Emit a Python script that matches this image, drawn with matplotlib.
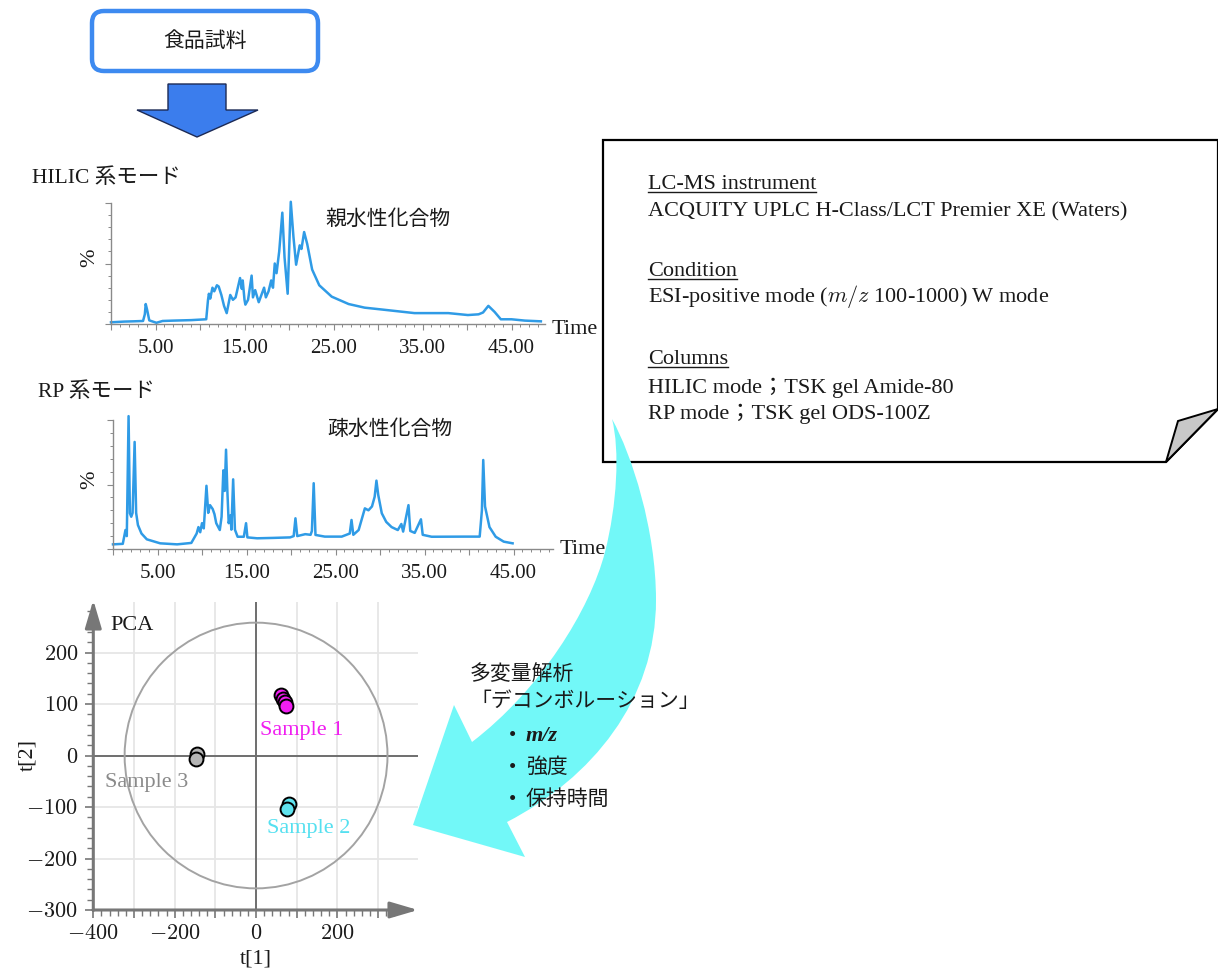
"""LC-MS metabolomics workflow: sample -> HILIC / RP chromatograms -> PCA score plot."""
import matplotlib
matplotlib.use("Agg")
import matplotlib.pyplot as plt
import numpy as np
from matplotlib.patches import Polygon, FancyBboxPatch, Ellipse, PathPatch
from matplotlib.path import Path
from matplotlib.ticker import MultipleLocator, FixedLocator, FuncFormatter, NullFormatter

plt.rcParams["font.family"] = ["Liberation Serif", "Noto Sans CJK JP"]
plt.rcParams["mathtext.fontset"] = "cm"

W, H = 1218, 973

# ── chromatogram traces (retention time [min], relative intensity [%]) ──────
HILIC_TIME = [0.0, 1.5, 2.5, 3.6, 3.8, 3.9, 4.05, 4.3, 5.1, 5.8, 7.0, 9.0, 10.7,
              10.9, 11.0, 11.15, 11.4, 11.6, 11.9, 12.1, 12.4, 12.7, 13.0, 13.4,
              13.7, 14.0, 14.5, 14.7, 14.8, 15.0, 15.1, 15.4, 15.8, 15.95, 16.2,
              16.4, 16.6, 16.9, 17.2, 17.4, 17.7, 18.0, 18.2, 18.4, 18.6, 18.9,
              19.25, 19.5, 19.85, 20.2, 20.5, 20.8, 21.2, 21.4, 21.7, 22.05, 22.6,
              23.4, 24.8, 26.7, 28.5, 30.4, 34.1, 37.9, 40.1, 41.3, 41.8, 42.4,
              43.1, 43.8, 45.0, 46.5, 48.3]
HILIC_INTENSITY = [1.4, 2.0, 2.2, 2.5, 8, 16.5, 12, 3, 1.0, 2.5, 2.8, 3.2, 3.9,
                   20, 25, 21, 30, 27, 32, 31, 24, 15, 9, 24,
                   20, 22, 38, 29, 36, 20, 16, 20, 40, 22, 28,
                   23, 18, 24, 30, 22, 27, 36, 30, 50, 42, 60,
                   92, 55, 25, 101, 72, 49, 65, 62, 76, 66, 45,
                   32, 22.6, 16.5, 13.5, 12, 9, 9, 7.4, 8, 9.5, 15,
                   10, 3.9, 3.9, 2.8, 2.2]

RP_TIME = [0.0, 1.1, 1.4, 1.55, 1.75, 1.9, 2.05, 2.2, 2.43, 2.6, 2.8, 3.2, 3.8,
           5.3, 7.2, 8.8, 9.4, 9.6, 9.8, 10.0, 10.2, 10.5, 10.7, 10.9, 11.2,
           11.4, 11.6, 12.0, 12.2, 12.4, 12.55, 12.7, 12.85, 13.0, 13.2, 13.3,
           13.5, 13.7, 14.0, 14.7, 14.95, 15.1, 16.2, 18.0, 19.9, 20.3, 20.5,
           20.7, 21.6, 22.2, 22.35, 22.55, 22.75, 23.8, 25.7, 26.6, 26.8, 27.0,
           27.6, 28.3, 28.7, 29.1, 29.4, 29.6, 29.8, 30.2, 30.7, 31.3, 32.0,
           32.4, 32.6, 33.2, 33.4, 33.9, 34.6, 34.8, 35.8, 39.5, 41.2, 41.45,
           41.6, 41.8, 42.3, 43.0, 43.9, 44.9]
RP_INTENSITY = [3.6, 4, 14.7, 10, 103, 27.7, 25, 28, 83, 28, 18.6, 12, 7.5,
                4.4, 3.6, 4.7, 12, 17, 13, 20, 16, 49, 28, 34, 31,
                27, 20, 14.7, 25, 61, 45, 77, 45, 20, 26, 15,
                54, 15, 9.5, 9.5, 20, 9, 8.3, 8.6, 9, 10, 23.8,
                10, 11.5, 11, 14, 51, 10.9, 9.6, 9.6, 12, 22.5, 11,
                14.7, 31.5, 30, 33, 40.5, 53, 42, 27.7, 21, 17, 14.7,
                19.4, 13.5, 34, 14, 12.5, 23, 11, 9.5, 9.6, 9.6, 30,
                69, 33, 17, 9.5, 5.7, 4.4]

TIME_TICKS = [5, 15, 25, 35, 45]

# ── PCA scores ───────────────────────────────────────────────────────────────
SAMPLE_NAMES = ["Sample 1", "Sample 2", "Sample 3"]
SAMPLE_T1 = [[62, 66, 70, 73], [80, 75], [-146, -148]]
SAMPLE_T2 = [[117, 110, 104, 96], [-94, -104], [2, -7]]
SAMPLE_FILL = ["#f21ef2", "#5fe3ee", "#b5b5b5"]
SAMPLE_TEXT = ["#f01ef0", "#55e0f0", "#8a8a8a"]
HOTELLING_T1, HOTELLING_T2 = 323, 258
PCA_X_TICKS = [-400, -200, 0, 200]
PCA_Y_TICKS = [-300, -200, -100, 0, 100, 200]

TRACE = "#2f9be6"
AXIS_GREY = "#8a8a8a"
INK = "#1a1a1a"
CYAN = "#72f8f8"

fig = plt.figure(figsize=(W / 100, H / 100), dpi=100)


def px_axes(left, top, right, bottom, **kw):
    """Axes placed by pixel box (y measured from the top)."""
    return fig.add_axes([left / W, 1 - bottom / H, (right - left) / W, (bottom - top) / H], **kw)


def chromatogram(box, time, inten):
    ax = px_axes(*box)
    xmax = (box[2] - box[0]) / 8.9
    ax.plot(time, inten, color=TRACE, lw=1.8, clip_on=False, solid_joinstyle="round")
    ax.set_xlim(0, xmax)
    ax.set_ylim(0, 100)
    ax.patch.set_alpha(0)
    for s in ("top", "right"):
        ax.spines[s].set_visible(False)
    for s in ("left", "bottom"):
        ax.spines[s].set_color(AXIS_GREY)
        ax.spines[s].set_linewidth(1.0)
    ax.xaxis.set_major_locator(FixedLocator(np.arange(0, xmax, 5)))
    ax.xaxis.set_minor_locator(FixedLocator(np.arange(0, xmax, 1)))
    ax.xaxis.set_major_formatter(FuncFormatter(
        lambda v, _: f"{v:.2f}" if round(v) in TIME_TICKS else ""))
    ax.yaxis.set_major_locator(MultipleLocator(50))
    ax.yaxis.set_minor_locator(MultipleLocator(10))
    ax.yaxis.set_major_formatter(NullFormatter())
    ax.tick_params(axis="x", which="major", length=4, width=0.8, color=AXIS_GREY,
                   labelsize=15, pad=7, labelcolor=INK)
    ax.tick_params(axis="x", which="minor", length=2.4, width=0.7, color=AXIS_GREY)
    ax.tick_params(axis="y", which="major", length=4, width=0.8, color=AXIS_GREY)
    ax.tick_params(axis="y", which="minor", length=2.4, width=0.7, color=AXIS_GREY)
    return ax


chromatogram((111, 203, 545, 324), HILIC_TIME, HILIC_INTENSITY)
chromatogram((113, 420, 553, 549), RP_TIME, RP_INTENSITY)

# ── PCA score plot ───────────────────────────────────────────────────────────
pca = px_axes(93.3, 600, 418, 910)
pca.set_xlim(-400, 398)
pca.set_ylim(-300, 302)
pca.patch.set_alpha(0)
for s in pca.spines.values():
    s.set_visible(False)

pca.vlines([-300, -200, -100, 100, 200, 300], -300, 298, color="#e6e6e6", lw=1.3, zorder=1)
pca.hlines([-200, -100, 100, 200], -400, 398, color="#e6e6e6", lw=1.3, zorder=1)
pca.vlines(0, -300, 298, color="#6e6e6e", lw=1.4, zorder=2)
pca.hlines(0, -400, 398, color="#6e6e6e", lw=1.4, zorder=2)
pca.add_patch(Ellipse((0, 0), 2 * HOTELLING_T1, 2 * HOTELLING_T2, fill=False,
                      ec="#a3a3a3", lw=1.4, zorder=2))

arrow_kw = dict(arrowstyle="-|>,head_length=0.85,head_width=0.25", color="#777777",
                lw=2.2, shrinkA=0, shrinkB=0, mutation_scale=20)
pca.annotate("", xy=(398, -300), xytext=(-401, -300), arrowprops=arrow_kw,
             annotation_clip=False, zorder=3)
pca.annotate("", xy=(-400, 302), xytext=(-400, -301), arrowprops=arrow_kw,
             annotation_clip=False, zorder=3)

for t1, t2, fc in zip(SAMPLE_T1, SAMPLE_T2, SAMPLE_FILL):
    pca.scatter(t1, t2, s=100, c=fc, edgecolors="black", linewidths=1.4, zorder=4)

pca.xaxis.set_major_locator(FixedLocator(np.arange(-400, 301, 100)))
pca.xaxis.set_minor_locator(FixedLocator(np.arange(-380, 341, 20)))
pca.yaxis.set_major_locator(FixedLocator(np.arange(-300, 201, 100)))
pca.yaxis.set_minor_locator(FixedLocator(np.arange(-280, 281, 20)))
pca.xaxis.set_major_formatter(FuncFormatter(
    lambda v, _: rf"${v:.0f}$" if round(v) in PCA_X_TICKS else ""))
pca.yaxis.set_major_formatter(FuncFormatter(
    lambda v, _: rf"${v:.0f}$" if round(v) in PCA_Y_TICKS else ""))
pca.tick_params(which="major", length=6, width=1.2, color="#777777",
                labelsize=16, labelcolor=INK, pad=5)
pca.tick_params(which="minor", length=4, width=1.0, color="#777777")

# ── overlay for flow-chart shapes and annotations (pixel units, y down) ─────
ov = fig.add_axes([0, 0, 1, 1], zorder=10)
ov.set_xlim(0, W)
ov.set_ylim(H, 0)
ov.axis("off")
ov.patch.set_alpha(0)

ov.add_patch(FancyBboxPatch((92, 11), 226, 60, boxstyle="round,pad=0,rounding_size=12",
                            fc="white", ec="#3d8af0", lw=3.2, zorder=2))
ov.text(205, 42, "食品試料", fontsize=15, ha="center", va="center", color=INK, zorder=3)
ov.add_patch(Polygon([(168, 84), (226, 84), (226, 110), (258, 110), (197, 137),
                      (137, 110), (168, 110)], closed=True, fc="#3b7ded",
                     ec="#1c2a55", lw=1.0, zorder=2))

ov.text(32, 178, "HILIC 系モード", fontsize=15.5, va="center", color=INK)
ov.text(38, 392, "RP 系モード", fontsize=15.5, va="center", color=INK)
ov.text(325, 220, "親水性化合物", fontsize=15, va="center", color=INK)
ov.text(327, 430, "疎水性化合物", fontsize=15, va="center", color=INK)
ov.text(90, 258, "%", fontsize=16, rotation=90, ha="center", va="center", color=INK)
ov.text(90, 480, "%", fontsize=16, rotation=90, ha="center", va="center", color=INK)
ov.text(552, 330, "Time", fontsize=16, va="center", color=INK)
ov.text(560, 550, "Time", fontsize=16, va="center", color=INK)

# instrument note sheet with a curled corner
ov.add_patch(Polygon([(603, 140), (1218, 140), (1218, 409), (1166, 462), (603, 462)],
                     closed=True, fc="white", ec="black", lw=1.6, zorder=1))
ov.add_patch(Polygon([(1166, 462), (1178, 421), (1218, 409)], closed=True,
                     fc="#c8c8c8", ec="black", lw=1.4, zorder=1))

note_x = 648
headings = []
for label, base in [("LC-MS instrument", 189), ("Condition", 276), ("Columns", 364)]:
    headings.append((ov.text(note_x, base, label, fontsize=16, va="baseline",
                             color=INK, zorder=2), base))
ov.text(note_x, 216, "ACQUITY UPLC H-Class/LCT Premier XE (Waters)", fontsize=16,
        va="baseline", color=INK, zorder=2)
ov.text(note_x, 302, r"ESI-positive mode ($m/z$ 100-1000) W mode", fontsize=16,
        va="baseline", color=INK, zorder=2)
ov.text(note_x, 393, "HILIC mode；TSK gel Amide-80", fontsize=16, va="baseline",
        color=INK, zorder=2)
ov.text(note_x, 419, "RP mode；TSK gel ODS-100Z", fontsize=16, va="baseline",
        color=INK, zorder=2)

# curved arrow from the note sheet down to the PCA plot
arrow_path = Path(
    [(612, 419), (632, 455), (656, 530), (656, 600), (656, 700), (592, 778), (507, 822),
     (525, 857), (413, 825), (454, 705), (472, 742),
     (540, 690), (590, 610), (605, 552), (617, 505), (620, 450), (612, 419), (612, 419)],
    [Path.MOVETO, Path.CURVE4, Path.CURVE4, Path.CURVE4, Path.CURVE4, Path.CURVE4,
     Path.CURVE4, Path.LINETO, Path.LINETO, Path.LINETO, Path.LINETO,
     Path.CURVE4, Path.CURVE4, Path.CURVE4, Path.CURVE4, Path.CURVE4, Path.CURVE4,
     Path.CLOSEPOLY])
ov.add_patch(PathPatch(arrow_path, fc=CYAN, ec="none", zorder=3))

ov.text(470, 675, "多変量解析", fontsize=15, va="center", color=INK, zorder=4)
ov.text(470, 702, "「デコンボルーション」", fontsize=15, va="center", color=INK, zorder=4)
for y in (737, 768, 800):
    ov.text(513, y, "•", fontsize=15, ha="center", va="center", color=INK, zorder=4)
ov.text(526, 736, "m/z", fontsize=16, fontstyle="italic", fontweight="bold",
        va="center", color=INK, zorder=4)
ov.text(526, 768, "強度", fontsize=15, va="center", color=INK, zorder=4)
ov.text(526, 800, "保持時間", fontsize=15, va="center", color=INK, zorder=4)

# PCA annotations
ov.text(110, 625, "PCA", fontsize=16, va="center", color=INK)
for name, color, (x, y) in zip(SAMPLE_NAMES, SAMPLE_TEXT,
                               [(260, 730), (267, 828), (105, 782)]):
    ov.text(x, y, name, fontsize=16, va="center", color=color)
ov.text(256, 959, "t[1]", fontsize=16, ha="center", va="center", color=INK)
ov.text(28, 755, "t[2]", fontsize=16, rotation=90, ha="center", va="center", color=INK)

# underline the section headings of the note
fig.canvas.draw()
renderer = fig.canvas.get_renderer()
for txt, base in headings:
    bb = txt.get_window_extent(renderer)
    ov.plot([bb.x0, bb.x1], [base + 2.5, base + 2.5], color=INK, lw=1.0, zorder=2)

fig.savefig("out.png", dpi=100)
